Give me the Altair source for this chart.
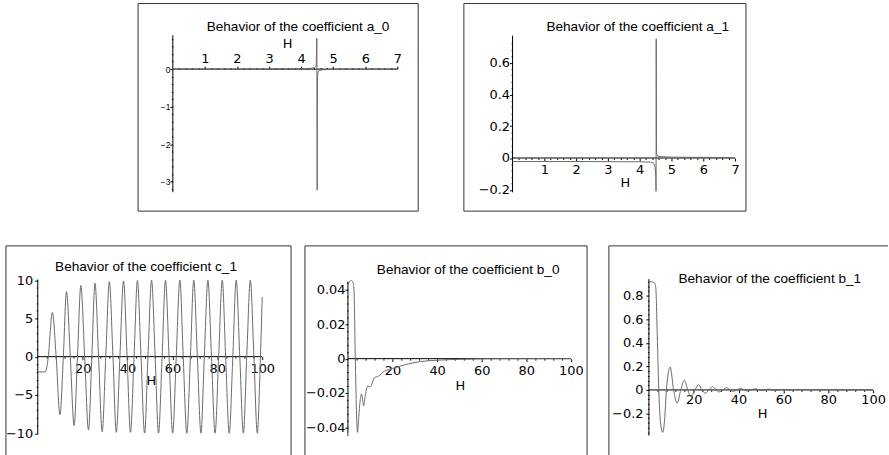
import altair as alt
import pandas as pd

FONT = "Liberation Sans"
TICKFONT = "DejaVu Sans"
CURVE = "#6a6a6a"
BOX = "#333333"

# ---------------- data ----------------
a0_H = [0, 1, 2, 3, 4, 4.3, 4.42, 4.47, 4.49, 4.5, 4.51, 4.53, 4.58, 4.7, 5, 6, 7]
a0_val = [0, 0, 0, 0.003, 0.01, 0.02, 0.04, 0.08, 0.82, -3.22, -0.2, -0.06, -0.03, -0.015, -0.006, -0.002, 0]

a1_H = [0, 1, 2, 3, 4, 4.35, 4.43, 4.48, 4.505, 4.515, 4.52, 4.53, 4.56, 4.7, 5, 6, 7]
a1_val = [-0.022, -0.022, -0.022, -0.023, -0.024, -0.026, -0.032, -0.05, -0.1, -0.21, 0.75, 0.03, 0.012, 0.008, 0.005, 0.004, 0.003]

c1_H = [0, 3.3, 3.9, 4.7, 6.5, 8.2, 9.9, 11.4, 12.8, 14.5, 16.2, 17.7, 19.2, 20.9, 22.6, 24.1,
        25.5, 27.1, 28.7, 30.3, 31.9, 33.5, 35.0, 36.6, 38.2, 39.8, 41.3, 42.9, 44.4, 46.0,
        47.6, 49.1, 50.7, 52.3, 53.8, 55.4, 56.9, 58.5, 60.1, 61.7, 63.3, 64.8, 66.4, 68.0,
        69.5, 71.1, 72.7, 74.2, 75.8, 77.4, 79.0, 80.6, 82.2, 83.7, 85.3, 86.9, 88.4, 90.0,
        91.6, 93.1, 94.7, 96.3, 97.8, 99.2, 100]
c1_val = [-2, -2, -1.6, 0, 5.8, 0, -7.6, 0, 8.5, 0, -9.0, 0, 9.3, 0, -9.6, 0,
          9.6, 0, -9.8, 0, 9.8, 0, -9.9, 0, 9.9, 0, -9.9, 0, 9.95, 0,
          -10, 0, 10, 0, -10, 0, 10, 0, -10, 0, 10, 0, -10, 0,
          10, 0, -10, 0, 10, 0, -10, 0, 10, 0, -10, 0, 10, 0,
          -10, 0, 10, 0, -10, 0, 7.8]

b0_H = [0, 0.8, 1.5, 2.2, 2.7, 3.3, 3.8, 4.3, 4.8, 5.5, 6.1, 6.6, 7.0, 7.8, 8.9, 10,
        11.9, 13.8, 16.4, 18.6, 22, 26, 32, 40, 50, 60, 70, 100]
b0_val = [0.043, 0.045, 0.0455, 0.0445, 0.04, 0.0, -0.03, -0.0429, -0.035, -0.024, -0.0205,
          -0.024, -0.0275, -0.021, -0.0159, -0.0165, -0.0111, -0.0101, -0.0072, -0.0063,
          -0.0048, -0.0034, -0.0018, -0.0009, -0.0004, -0.0001, 0, 0]

b1_H = [0, 1, 2.1, 2.7, 3.1, 3.6, 4.4, 5.2, 6.2, 7.0, 7.8, 9.5, 11.0, 12.6, 14.2, 15.8, 17.3,
        18.8, 20.5, 22.2, 23.6, 25.1, 26.8, 28.4, 29.9, 31.4, 33, 34.7, 36.2, 37.6, 39.3, 41,
        42.5, 44, 45.6, 47.3, 50.4, 53.6, 56.7, 59.9, 63, 66.2, 70, 80, 90, 100]
b1_val = [0.918, 0.917, 0.912, 0.9, 0.86, 0.55, 0, -0.28, -0.36, -0.25, 0, 0.194, 0, -0.112,
          0, 0.082, 0, -0.059, 0, 0.045, 0, -0.028, 0, 0.028, 0, -0.017, 0, 0.02, 0, -0.012,
          0, 0.014, 0, -0.008, 0, 0.01, -0.005, 0.007, -0.004, 0.005, -0.003, 0.004, 0.002,
          0.002, 0.001, 0.001]

# axis extents (data units): x axis from 0 to xmax, y axis from ylo to yhi
a0_axes = dict(xmax=7, ylo=-3.28, yhi=0.9)
a1_axes = dict(xmax=7, ylo=-0.216, yhi=0.77)
c1_axes = dict(xmax=100, ylo=-10.1, yhi=10.1)
b0_axes = dict(xmax=100, ylo=-0.0438, yhi=0.0448)
b1_axes = dict(xmax=100, ylo=-0.388, yhi=0.94)


def ticks(lo, hi, step, skip_zero=False):
    n = int(round((hi - lo) / step))
    out = [round(lo + i * step, 6) for i in range(n + 1)]
    if skip_zero:
        out = [v for v in out if abs(v) > 1e-9]
    return out


def major(step):
    return f"abs(datum.value/{step} - round(datum.value/{step})) < 1e-6"


def panel(title, hs, vs, axes, box_w, box_h, x0, xs, y0, ys,
          xt, xstep, yt, ystep, x_orient, xpad, ypad, yfont, ylab_size,
          htx, hty, tdx, tdy, interp, sides):
    xd = [-x0 / xs, (box_w - x0) / xs]
    yd = [-(box_h - y0) / ys, y0 / ys]
    xscale = alt.Scale(domain=xd, nice=False, zero=False)
    yscale = alt.Scale(domain=yd, nice=False, zero=False)
    xoff = -y0 if x_orient == "top" else -(box_h - y0)
    xaxis = alt.Axis(
        values=xt, orient=x_orient, offset=xoff, domain=False, grid=False,
        tickSize={"condition": {"test": major(xstep), "value": 3}, "value": 1.5},
        labelExpr=f"{major(xstep)} ? format(datum.value, '~g') : ''",
        labelOverlap=False, labelFlush=False, labelPadding=xpad,
        title="H", titleX=htx, titleY=hty, titleAlign="center", titleBaseline="middle",
    )
    yaxis = alt.Axis(
        values=yt, orient="left", offset=-x0, domain=False, grid=False,
        tickSize={"condition": {"test": major(ystep), "value": 3}, "value": 1.5},
        labelExpr=f"{major(ystep)} ? format(datum.value, '~g') : ''",
        labelOverlap=False, labelFlush=False, labelPadding=ypad,
        labelFont=yfont, labelFontSize=ylab_size, title=None,
    )

    def enc(ch):
        return ch.encode(
            x=alt.X("H:Q", scale=xscale, axis=xaxis), x2="x2:Q",
            y=alt.Y("v:Q", scale=yscale, axis=yaxis), y2="y2:Q",
        )

    df = pd.DataFrame({"H": hs, "v": vs})
    lines = pd.DataFrame({
        "H": [0, 0], "x2": [axes["xmax"], 0],
        "v": [0, axes["ylo"]], "y2": [0, axes["yhi"]],
    })
    axlines = enc(alt.Chart(lines).mark_rule(color="black", strokeWidth=1))
    curve = alt.Chart(df).mark_line(color=CURVE, strokeWidth=1, interpolate=interp).encode(
        x=alt.X("H:Q", scale=xscale, axis=xaxis),
        y=alt.Y("v:Q", scale=yscale, axis=yaxis),
    )
    # panel frame along the chosen edges of the plotting region
    seg = {
        "top": (xd[0], xd[1], yd[1], yd[1]),
        "bottom": (xd[0], xd[1], yd[0], yd[0]),
        "left": (xd[0], xd[0], yd[0], yd[1]),
        "right": (xd[1], xd[1], yd[0], yd[1]),
    }
    rows = [seg[s] for s in sides]
    frame_df = pd.DataFrame({"H": [r[0] for r in rows], "x2": [r[1] for r in rows],
                             "v": [r[2] for r in rows], "y2": [r[3] for r in rows]})
    frame = enc(alt.Chart(frame_df).mark_rule(color=BOX, strokeWidth=1))
    return alt.layer(frame, axlines, curve).properties(
        width=box_w, height=box_h,
        view=alt.ViewBackground(stroke="transparent", strokeWidth=0),
        title=alt.TitleParams(text=title, anchor="middle", offset=-tdy, dx=tdx,
                              baseline="middle", font=FONT, fontSize=13.7,
                              fontWeight="normal", color="black"),
    )


ALL4 = ["top", "bottom", "left", "right"]
p_a0 = panel("Behavior of the coefficient a_0", a0_H, a0_val, a0_axes, 282, 209, 35, 32.29, 66, 37.8,
             ticks(0.2, 7, 0.2, True), 1, ticks(-3.2, 0.8, 0.2), 1, "top", 1, 0, FONT, 8.5,
             150, -26, 20, 38, "linear", ALL4)
p_a1 = panel("Behavior of the coefficient a_1", a1_H, a1_val, a1_axes, 284, 209, 49, 32.0, 155.5, 160,
             ticks(0.2, 7, 0.2, True), 1, ticks(-0.2, 0.72, 0.04), 0.2, "bottom", 3, 0, TICKFONT, 13,
             162, 24.5, 33, 38, "linear", ALL4)
p_c1 = panel("Behavior of the coefficient c_1", c1_H, c1_val, c1_axes, 287, 216, 32, 2.26, 111.5, 7.7,
             ticks(4, 100, 4), 20, ticks(-10, 10, 1), 5, "bottom", 3, 2, TICKFONT, 13,
             146, 24.5, -2.5, 35, "monotone", ["top", "left", "right"])
p_b0 = panel("Behavior of the coefficient b_0", b0_H, b0_val, b0_axes, 284, 216, 43.3, 2.244, 113.5, 1730,
             ticks(4, 100, 4), 20, ticks(-0.044, 0.044, 0.004), 0.02, "bottom", 2.5, 0, TICKFONT, 13,
             156, 26.8, 22.3, 38, "monotone", ["top", "left", "right"])
p_b1 = panel("Behavior of the coefficient b_1", b1_H, b1_val, b1_axes, 281, 216, 40.3, 2.257, 145, 118.7,
             ticks(4, 100, 4), 20, ticks(-0.36, 0.92, 0.04), 0.2, "bottom", 1, 3, TICKFONT, 13,
             154.3, 23.7, 21.5, 48, "monotone", ["top", "left"])

spacer = alt.Chart(pd.DataFrame({"s": [0]})).mark_point(opacity=0).properties(width=88, height=209)

row1 = alt.hconcat(spacer, p_a0, p_a1, spacing=44)
row2 = alt.hconcat(p_c1, alt.hconcat(p_b0, p_b1, spacing=20), spacing=12)

chart = alt.vconcat(row1, row2, spacing=33).properties(
    padding={"left": 5, "top": 1, "right": 0, "bottom": 0},
    background="white",
).configure_view(stroke="transparent").configure_axis(
    labelFont=TICKFONT, labelFontSize=13, labelColor="black", tickColor="black",
    titleFont=TICKFONT, titleFontSize=13, titleFontWeight="normal", titleColor="black",
)

chart.save("out.html", embed_options={"renderer": "svg", "actions": False})
